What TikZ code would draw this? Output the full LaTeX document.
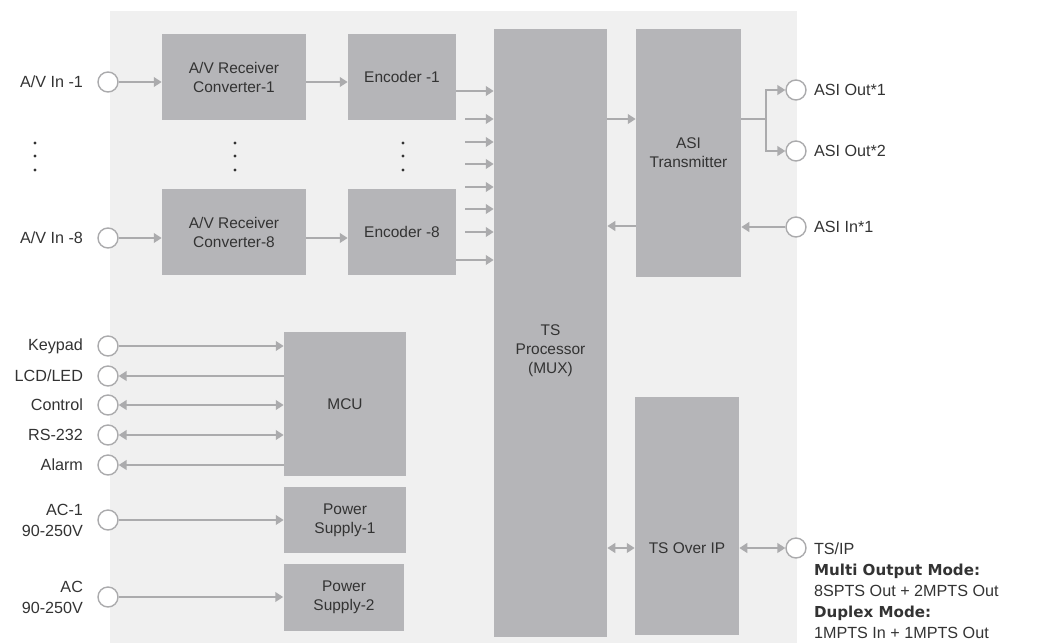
\documentclass[tikz,border=0pt]{standalone}
\usepackage{fontspec}
\setmainfont{Liberation Sans}
\newfontfamily\heavyfont{DejaVu Sans}
\usetikzlibrary{arrows.meta,positioning}
\pgfdeclarelayer{background layer}
\pgfsetlayers{background layer,main}
\definecolor{bkg}{rgb}{0.94,0.94,0.94}
\definecolor{blk}{rgb}{0.71,0.71,0.72}
\definecolor{wire}{rgb}{0.67,0.67,0.68}
\definecolor{ink}{rgb}{0.2,0.2,0.2}

\begin{document}
\begin{tikzpicture}[x=0.02cm,y=-0.02cm]
\tikzstyle{block}=[fill=blk,inner sep=0pt,text=ink,align=center,font=\fontsize{8.8}{10.8}\selectfont]
\tikzstyle{btext}=[inner sep=0pt,text=ink,align=center,font=\fontsize{8.8}{10.8}\selectfont]
\tikzstyle{port}=[draw=wire,circle,fill=white,line width=0.8pt,minimum size=0.4cm,inner sep=0pt]
\tikzstyle{lbl}=[inner sep=0pt,text=ink,font=\fontsize{9.2}{12}\selectfont]
\tikzstyle{arrow}=[line width=1.1pt,draw=wire,->,>={Triangle[length=4.5pt,width=5.5pt]}]
\useasboundingbox (0,0) rectangle (1044,643);
% blocks
\node [block,minimum width=2.88cm,minimum height=1.72cm] at (234,77) (rc1) {A/V Receiver\\Converter-1};
\node [block,minimum width=2.16cm,minimum height=1.72cm] at (402,77) (enc1) {Encoder -1};
\node [block,minimum width=2.88cm,minimum height=1.72cm] at (234,232) (rc8) {A/V Receiver\\Converter-8};
\node [block,minimum width=2.16cm,minimum height=1.72cm] at (402,232) (enc8) {Encoder -8};
\node [block,minimum width=2.26cm,minimum height=12.16cm] at (550.5,333) (ts) {};
\node [btext] at ([yshift=-0.36cm]ts.center) (tstext) {TS\\Processor\\(MUX)};
\node [block,minimum width=2.1cm,minimum height=4.96cm] at (688.5,153) (asi) {ASI\\Transmitter};
\node [block,minimum width=2.08cm,minimum height=4.76cm] at (687,516) (tsip) {};
\node [btext] at ([yshift=-0.64cm]tsip.center) (tsiptext) {TS Over IP};
\node [block,minimum width=2.44cm,minimum height=2.88cm] at (345,404) (mcu) {MCU};
\node [block,minimum width=2.44cm,minimum height=1.32cm] at (345,520) (ps1) {Power\\Supply-1};
\node [block,minimum width=2.42cm,minimum height=1.34cm] at (344,597) (ps2) {Power\\Supply-2};
% ports
\node [port] at (108,82) (in1) {};
\node [port] at (108,238) (in8) {};
\node [port] at (108,346) (kp) {};
\node [port] at (108,376) (lcd) {};
\node [port] at (108,405) (ctl) {};
\node [port] at (108,435) (rs) {};
\node [port] at (108,465) (al) {};
\node [port] at (108,520) (ac1) {};
\node [port] at (108,597) (ac2) {};
\node [port] at (796,90) (ao1) {};
\node [port] at (796,151) (ao2) {};
\node [port] at (796,227) (ai) {};
\node [port] at (796,548) (ipo) {};
% labels
\node [lbl,left=0.28cm of in1] (l1) {A/V In -1};
\node [lbl,left=0.28cm of in8] (l8) {A/V In -8};
\node [lbl,left=0.28cm of kp] (lkp) {Keypad};
\node [lbl,left=0.28cm of lcd] (llcd) {LCD/LED};
\node [lbl,left=0.28cm of ctl] (lctl) {Control};
\node [lbl,left=0.28cm of rs] (lrs) {RS-232};
\node [lbl,left=0.28cm of al] (lal) {Alarm};
\node [lbl,left=0.28cm of ac1,align=right] (lac1) {AC-1\\90-250V};
\node [lbl,left=0.28cm of ac2,align=right] (lac2) {AC\\90-250V};
\node [lbl,right=0.14cm of ao1] (lao1) {ASI Out*1};
\node [lbl,right=0.14cm of ao2] (lao2) {ASI Out*2};
\node [lbl,right=0.14cm of ai] (lai) {ASI In*1};
\node [lbl,align=left,anchor=north west] at ([xshift=0.14cm,yshift=0.12cm]ipo.east) (lipo) {TS/IP\\{\heavyfont\bfseries\fontsize{8.6}{12}\selectfont Multi Output Mode:}\\8SPTS Out + 2MPTS Out\\{\heavyfont\bfseries\fontsize{8.6}{12}\selectfont Duplex Mode:}\\1MPTS In + 1MPTS Out};
% connectors
\draw [arrow] (in1) -- (in1 -| rc1.west);
\draw [arrow] (in1 -| rc1.east) -- (in1 -| enc1.west);
\draw [arrow] (in8) -- (in8 -| rc8.west);
\draw [arrow] (in8 -| rc8.east) -- (in8 -| enc8.west);
\draw [arrow] ([yshift=-0.28cm]enc1.east) -- ([yshift=-0.28cm]enc1.east -| ts.west);
\draw [arrow] ([yshift=-0.56cm]enc8.east) -- ([yshift=-0.56cm]enc8.east -| ts.west);
\foreach \y [count=\i] in {119,142,164,187,209,232} {
  \coordinate (s\i) at (465,\y);
  \draw [arrow] (s\i) -- (s\i -| ts.west);
}
\draw [arrow] ([yshift=0.68cm]asi.west -| ts.east) -- ([yshift=0.68cm]asi.west);
\draw [arrow] ([yshift=-1.46cm]asi.west) -- ([yshift=-1.46cm]asi.west -| ts.east);
\coordinate (br) at ([xshift=0.5cm,yshift=0.68cm]asi.east);
\draw [arrow,-] ([yshift=0.68cm]asi.east) -- (br);
\draw [arrow] (br) |- (ao1);
\draw [arrow] (br) |- (ao2);
\draw [arrow] (ai) -- (ai -| asi.east);
\draw [arrow,<->] (ipo -| ts.east) -- (ipo -| tsip.west);
\draw [arrow,<->] (ipo -| tsip.east) -- (ipo);
\draw [arrow] (kp) -- (kp -| mcu.west);
\draw [arrow] (lcd -| mcu.west) -- (lcd);
\draw [arrow,<->] (ctl) -- (ctl -| mcu.west);
\draw [arrow,<->] (rs) -- (rs -| mcu.west);
\draw [arrow] (al -| mcu.west) -- (al);
\draw [arrow] (ac1) -- (ps1);
\draw [arrow] (ac2) -- (ac2 -| ps2.west);
% dots
\foreach \x in {35,235,403}
  \foreach \y in {143,156,170}
    \fill [ink] (\x,\y) circle (0.9pt);
\begin{pgfonlayer}{background layer}
\fill [bkg] (110,11) rectangle (797,643);
\end{pgfonlayer}
\end{tikzpicture}
\end{document}
